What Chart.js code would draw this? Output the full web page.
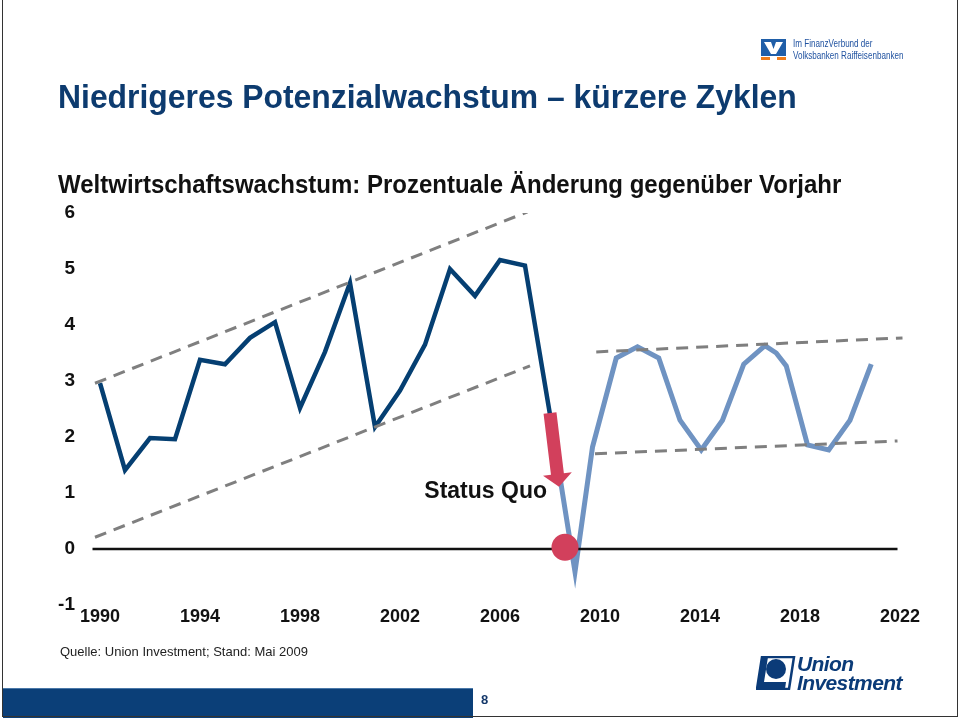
<!DOCTYPE html>
<html>
<head>
<meta charset="utf-8">
<script src="https://cdn.jsdelivr.net/npm/chart.js@4/dist/chart.umd.min.js"></script>
<style>
  body { margin: 0; background: #fff; }
  #slide { position: relative; width: 960px; height: 720px; overflow: hidden; background: #fff; }
  #chart { position: absolute; left: 0; top: 0; }
  .txt { position: absolute; white-space: nowrap; line-height: 1; transform-origin: left top; }
  #title { left: 58px; top: 78px; font: bold 33px "Liberation Sans", Arial, sans-serif; color: #0d3b6f; transform: scaleX(0.966); }
  #subtitle { left: 58px; top: 170px; font: bold 25px "Liberation Sans", Arial, sans-serif; color: #111; transform: scaleX(0.96); }
  #source { left: 60px; top: 644px; font: 13px "Liberation Sans", Arial, sans-serif; color: #222; }
  #pagebar { position: absolute; left: 3px; top: 688px; width: 470px; height: 29px; background: #0b3f78; border-top: 1px solid #4a78a8; }
  #pagenum { left: 481px; top: 692px; font: bold 13px "Liberation Sans", Arial, sans-serif; color: #14386a; }
  #frame { position: absolute; left: 2px; top: 0; width: 954px; height: 716px; border: 1px solid #333; border-top: none; }
  #vb-text { left: 793px; top: 38px; font: 10.5px "Liberation Sans", Arial, sans-serif; color: #2052a0; line-height: 11.5px; transform: scaleX(0.77); }
  #ui-text { left: 797px; top: 654px; font: italic bold 21px "Liberation Sans", Arial, sans-serif; color: #0b3b78; line-height: 19px; letter-spacing: -0.6px; }
</style>
</head>
<body>
<div id="slide">
  <canvas id="chart" width="960" height="720"></canvas>
  <div class="txt" id="title">Niedrigeres Potenzialwachstum – kürzere Zyklen</div>
  <div class="txt" id="subtitle">Weltwirtschaftswachstum: Prozentuale Änderung gegenüber Vorjahr</div>
  <div class="txt" id="source">Quelle: Union Investment; Stand: Mai 2009</div>
  <div id="pagebar"></div>
  <div class="txt" id="pagenum">8</div>
  <div id="frame"></div>

  <svg style="position:absolute;left:761px;top:39px" width="26" height="22">
    <rect x="0" y="0" width="25" height="17" fill="#1f5ea8"/>
    <path d="M3 3 L10 3 L12.5 10 L15 3 L22 3 L15 15 L10 15 Z" fill="#fff"/>
    <rect x="0" y="18" width="9" height="3" fill="#f07d1a"/>
    <rect x="16" y="18" width="9" height="3" fill="#f07d1a"/>
  </svg>
  <div class="txt" id="vb-text">Im FinanzVerbund der<br>Volksbanken Raiffeisenbanken</div>

  <svg style="position:absolute;left:756px;top:656px" width="40" height="34">
    <path d="M6 1 L38 1 L33 33 L1 33 Z" fill="#fff" stroke="#0b3b78" stroke-width="2.5"/>
    <circle cx="20" cy="13" r="10" fill="#0b3b78"/>
    <path d="M6 1 L12 1 L8 26 L30 26 L29 33 L1 33 Z" fill="#0b3b78"/>
  </svg>
  <div class="txt" id="ui-text">Union<br>Investment</div>
</div>

<script>
// Weltwirtschaftswachstum, % gg. Vorjahr
const historyYears = [1990, 1991, 1992, 1993, 1994, 1995, 1996, 1997, 1998, 1999,
  2000, 2001, 2002, 2003, 2004, 2005, 2006, 2007, 2008];
const historyGrowth = [2.96, 1.41, 1.98, 1.96, 3.38, 3.30, 3.77, 4.05, 2.52, 3.52,
  4.75, 2.18, 2.83, 3.65, 5.0, 4.52, 5.16, 5.06, 2.4];

// Szenario (hellblau)
const scenarioYears = [2008, 2009, 2009.7, 2010.65, 2011.5, 2012.35, 2013.2, 2014.05, 2014.9,
  2015.75, 2016.6, 2017.05, 2017.45, 2018.3, 2019.15, 2020.0, 2020.85];
const scenarioGrowth = [2.4, -0.41, 1.82, 3.41, 3.61, 3.41, 2.30, 1.77, 2.30,
  3.30, 3.63, 3.50, 3.27, 1.86, 1.77, 2.30, 3.30];

// Trendkanäle (gestrichelt)
const upperOldYears = [1989.8, 2007.1];
const upperOldGrowth = [2.96, 6.02];
const lowerOldYears = [1989.8, 2007.2];
const lowerOldGrowth = [0.21, 3.27];
const upperNewYears = [2009.85, 2022.1];
const upperNewGrowth = [3.52, 3.77];
const lowerNewYears = [2009.8, 2021.9];
const lowerNewGrowth = [1.70, 1.93];

const zeroLineYears = [1989.7, 2021.9];
const zeroLineGrowth = [0, 0];

const tickYears = [1990, 1994, 1998, 2002, 2006, 2010, 2014, 2018, 2022];

// Markierungen
const arrowFrom = { x: 2008, y: 2.43 };
const arrowTo = { x: 2008.36, y: 1.11 };
const statusDot = { x: 2008.6, y: 0.03 };
const statusLabel = { x: 2007.88, y: 1.02, text: "Status Quo" };

function toPoints(xs, ys) {
  return xs.map((x, i) => ({ x: x, y: ys[i] }));
}

function dashed(xs, ys) {
  return {
    data: toPoints(xs, ys),
    borderColor: "#7f7f7f",
    borderWidth: 3,
    borderDash: [12, 8],
    pointRadius: 0,
  };
}

const markerPlugin = {
  id: "markers",
  afterDatasetsDraw(chart) {
    const ctx = chart.ctx;
    const xs = chart.scales.x;
    const ys = chart.scales.y;

    // label
    ctx.save();
    ctx.font = "bold 23px 'Liberation Sans', Arial, sans-serif";
    ctx.fillStyle = "#111";
    ctx.textAlign = "right";
    ctx.textBaseline = "middle";
    ctx.fillText(statusLabel.text, xs.getPixelForValue(statusLabel.x), ys.getPixelForValue(statusLabel.y));

    // arrow
    const x1 = xs.getPixelForValue(arrowFrom.x), y1 = ys.getPixelForValue(arrowFrom.y);
    const x2 = xs.getPixelForValue(arrowTo.x), y2 = ys.getPixelForValue(arrowTo.y);
    const len = Math.hypot(x2 - x1, y2 - y1);
    ctx.translate(x1, y1);
    ctx.rotate(Math.atan2(y2 - y1, x2 - x1));
    ctx.fillStyle = "#d2405c";
    ctx.beginPath();
    ctx.moveTo(0, -6.5);
    ctx.lineTo(len - 13, -6.5);
    ctx.lineTo(len - 13, -14.5);
    ctx.lineTo(len, 0);
    ctx.lineTo(len - 13, 14.5);
    ctx.lineTo(len - 13, 6.5);
    ctx.lineTo(0, 6.5);
    ctx.closePath();
    ctx.fill();
    ctx.restore();

    // dot
    ctx.save();
    ctx.fillStyle = "#d2405c";
    ctx.beginPath();
    ctx.arc(xs.getPixelForValue(statusDot.x), ys.getPixelForValue(statusDot.y), 13.5, 0, Math.PI * 2);
    ctx.fill();
    ctx.restore();
  },
};

const chartCtx = document.getElementById("chart").getContext("2d");

const growthChart = new Chart(chartCtx, {
  type: "line",
  data: {
    datasets: [
      dashed(upperOldYears, upperOldGrowth),
      dashed(lowerOldYears, lowerOldGrowth),
      dashed(upperNewYears, upperNewGrowth),
      dashed(lowerNewYears, lowerNewGrowth),
      {
        data: toPoints(zeroLineYears, zeroLineGrowth),
        borderColor: "#111",
        borderWidth: 2.5,
        pointRadius: 0,
      },
      {
        data: toPoints(scenarioYears, scenarioGrowth),
        borderColor: "#6f93c2",
        borderWidth: 5,
        pointRadius: 0,
      },
      {
        data: toPoints(historyYears, historyGrowth),
        borderColor: "#053f72",
        borderWidth: 4.5,
        pointRadius: 0,
      },
    ],
  },
  options: {
    responsive: false,
    animation: false,
    layout: { padding: { top: 213, right: 55, bottom: 80, left: 0 } },
    plugins: { legend: { display: false }, tooltip: { enabled: false } },
    elements: { line: { tension: 0, borderJoinStyle: "miter", borderCapStyle: "butt" } },
    scales: {
      x: {
        type: "linear",
        min: 1989.6,
        max: 2022.2,
        grid: { display: false, drawTicks: false },
        border: { display: false },
        afterBuildTicks: (scale) => {
          scale.ticks = tickYears.map((v) => ({ value: v }));
        },
        afterFit: (scale) => { scale.height = 35; },
        ticks: {
          autoSkip: false,
          maxRotation: 0,
          padding: 1,
          color: "#111",
          font: { family: "'Liberation Sans', Arial, sans-serif", size: 18, weight: "bold" },
          callback: (value) => String(value),
        },
      },
      y: {
        min: -1,
        max: 6,
        grid: { display: false, drawTicks: false },
        border: { display: false },
        afterFit: (scale) => { scale.width = 90; },
        ticks: {
          stepSize: 1,
          padding: 15,
          color: "#111",
          font: { family: "'Liberation Sans', Arial, sans-serif", size: 19, weight: "bold" },
        },
      },
    },
  },
  plugins: [markerPlugin],
});
</script>
</body>
</html>
